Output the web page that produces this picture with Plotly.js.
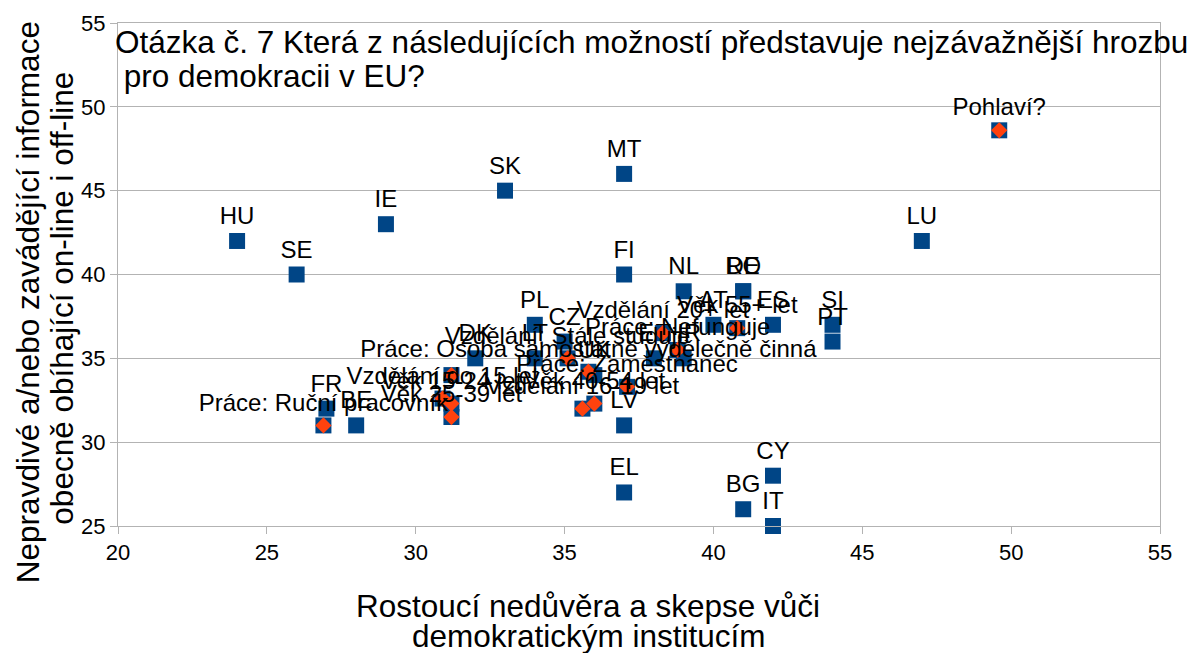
<!DOCTYPE html>
<html><head><meta charset="utf-8">
<script src="https://cdn.plot.ly/plotly-3.0.1.min.js"></script>
<style>html,body{margin:0;padding:0;background:#fff}#chart{width:1198px;height:653px}</style>
</head><body><div id="chart"></div>
<script>
// Country series (blue squares)
const countries = ['HU','SE','IE','SK','MT','FI','NL','RO','DE','LU','AT','ES','SI','PT','PL','CZ','DK','LT','UK','EE','HR','LV','EL','BG','CY','IT','FR','BE'];
const countryX  = [24,26,29,33,37,37,39,41,41,47,40,42,44,44,34,35,32,34,36,38,39,37,37,41,42,42,27,28];
const countryY  = [42,40,43,45,46,40,39,39,39,42,37,37,37,36,37,36,35,35,34,35,35,31,27,26,28,25,32,31];

// Socio-demographic series (red diamonds); one label in the reference is hidden under others
const groups = ['Pohlaví?','Věk 55+ let','Vzdělání 20+ let','Práce: Nefunguje','Vzdělání: Stále studuje',
  'Práce: Osoba samostatně výdělečně činná','Práce: Zaměstnanec','Věk 40-54 let','Vzdělání 16-19 let',
  'Vzdělání do 15 let','Věk 15-24 let','Věk 25-39 let','Práce: Ruční pracovník',''];
const groupX = [49.6,40.8,38.3,38.8,35.1,35.8,37.1,36.0,35.6,30.9,31.2,31.2,26.9,31.2];
const groupY = [48.6,36.8,36.5,35.5,35.0,34.2,33.3,32.3,32.0,32.6,32.3,31.5,31.0,34.0];

const titleLines = ['Otázka č. 7 Která z následujících možností představuje nejzávažnější hrozbu', ' pro demokracii v EU?'];
const xTitleLines = ['Rostoucí nedůvěra a skepse vůči', 'demokratickým institucím'];
const yTitleLines = ['Nepravdivé a/nebo zavádějící informace', 'obecně obíhající on-line i off-line'];

const FONT = 'Liberation Sans, Arial, sans-serif';
const BLUE = '#004586', RED = '#ff420e', GRID = '#b3b3b3';
const LABEL = {family: FONT, size: 24, color: '#000'};
const BIG = {family: FONT, size: 31.5, color: '#000'};

const traces = [
  {x: countryX, y: countryY, text: countries, type: 'scatter', mode: 'markers+text',
   textposition: 'top center', textfont: LABEL,
   marker: {symbol: 'square', size: 16, color: BLUE}, cliponaxis: false, hoverinfo: 'text'},
  {x: groupX, y: groupY, type: 'scatter', mode: 'markers',
   marker: {symbol: 'square', size: 16, color: BLUE}, cliponaxis: false, hoverinfo: 'skip'},
  {x: groupX, y: groupY, text: groups, type: 'scatter', mode: 'markers+text',
   textposition: 'top center', textfont: LABEL,
   marker: {symbol: 'diamond', size: 12.5, color: RED}, cliponaxis: false, hoverinfo: 'text'}
];

function ann(text, x, y, opts) {
  return Object.assign({text: text, xref: 'paper', yref: 'paper', x: x, y: y,
    showarrow: false, font: BIG}, opts);
}

const layout = {
  width: 1198, height: 653, showlegend: false,
  paper_bgcolor: '#fff', plot_bgcolor: '#fff',
  margin: {l: 118, r: 38, t: 23, b: 127},
  font: {family: FONT, size: 22, color: '#000'},
  xaxis: {range: [20,55], dtick: 5, tick0: 20, showgrid: false, zeroline: false,
    showline: true, linecolor: GRID, linewidth: 1, mirror: true,
    ticks: 'outside', ticklen: 7, tickcolor: GRID, tickfont: {family: FONT, size: 22, color: '#000'}},
  yaxis: {range: [25,55], dtick: 5, tick0: 25, showgrid: true, gridcolor: GRID, zeroline: false,
    showline: true, linecolor: GRID, linewidth: 1, mirror: true,
    ticks: 'outside', ticklen: 7, tickcolor: GRID, tickfont: {family: FONT, size: 22, color: '#000'}},
  annotations: [
    ann(titleLines[0], 0, 1, {xanchor: 'left', yanchor: 'middle', xshift: -5, yshift: -19}),
    ann(titleLines[1], 0, 1, {xanchor: 'left', yanchor: 'middle', xshift: -5, yshift: -53}),
    ann(xTitleLines[0], 0.451, 0, {xanchor: 'center', yanchor: 'middle', yshift: -80}),
    ann(xTitleLines[1], 0.452, 0, {xanchor: 'center', yanchor: 'middle', yshift: -110}),
    ann(yTitleLines[0], 0, 0.445, {xanchor: 'center', yanchor: 'middle', xshift: -90, textangle: -90}),
    ann(yTitleLines[1], 0, 0.452, {xanchor: 'center', yanchor: 'middle', xshift: -56, textangle: -90})
  ]
};
Plotly.newPlot('chart', traces, layout, {displayModeBar: false, staticPlot: true});
</script></body></html>
